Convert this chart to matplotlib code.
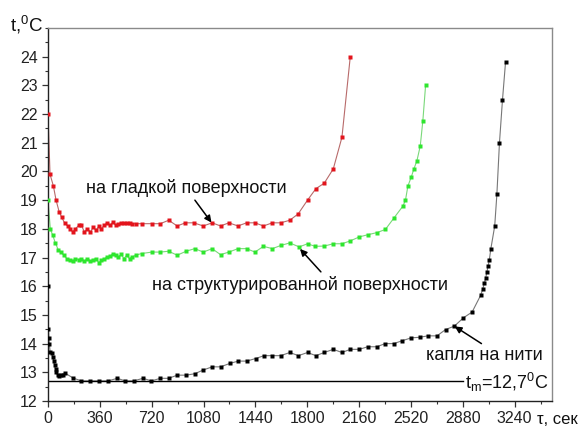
import matplotlib
matplotlib.use("Agg")
import matplotlib.pyplot as plt
from matplotlib.ticker import MultipleLocator

plt.rcParams['font.family'] = ['Liberation Sans', 'DejaVu Sans']
plt.rcParams['mathtext.fontset'] = 'custom'
plt.rcParams['mathtext.rm'] = 'Liberation Sans'
plt.rcParams['mathtext.it'] = 'Liberation Sans'

# Drop on a smooth surface
smooth_t = [0, 14, 37, 56, 77, 95, 116, 139, 156, 172, 190, 213, 232, 253, 272, 295,
            314, 334, 353, 371, 392, 411, 430, 451, 469, 488, 509, 527, 546, 566, 585,
            608, 653, 722, 780, 838, 897, 954, 1012, 1078, 1140, 1198, 1256, 1319, 1379,
            1437, 1496, 1558, 1616, 1679, 1737, 1802, 1860, 1918, 1981, 2041, 2099]
smooth_T = [22.0, 19.9, 19.5, 19.0, 18.6, 18.4, 18.2, 18.09, 18.0, 17.89, 18.0, 18.12,
            18.12, 17.89, 18.0, 17.89, 18.06, 17.95, 18.09, 18.0, 18.14, 18.2, 18.12,
            18.24, 18.12, 18.18, 18.2, 18.2, 18.2, 18.2, 18.18, 18.18, 18.18, 18.18,
            18.18, 18.3, 18.1, 18.21, 18.21, 18.1, 18.21, 18.1, 18.21, 18.1, 18.21,
            18.21, 18.1, 18.21, 18.21, 18.3, 18.52, 19.0, 19.4, 19.59, 20.09, 21.19, 24.0]

# Drop on a structured surface
struct_t = [0, 16, 33, 51, 70, 91, 109, 132, 151, 172, 190, 213, 232, 253, 272, 295,
            314, 334, 353, 371, 392, 411, 430, 451, 469, 488, 509, 527, 546, 566, 585,
            608, 650, 722, 780, 838, 897, 959, 1019, 1078, 1140, 1198, 1256, 1319, 1379,
            1437, 1496, 1558, 1616, 1679, 1744, 1802, 1855, 1918, 1981, 2041, 2099, 2162,
            2225, 2285, 2343, 2404, 2464, 2482, 2499, 2522, 2541, 2562, 2585, 2603, 2622]
struct_T = [19.0, 18.0, 17.77, 17.51, 17.28, 17.19, 17.08, 16.96, 16.9, 16.88, 16.96,
            16.93, 16.96, 16.88, 16.96, 16.88, 16.93, 16.96, 16.82, 16.9, 16.96, 17.02,
            17.04, 17.14, 17.08, 17.02, 17.11, 16.96, 17.08, 16.96, 17.02, 17.08, 17.14,
            17.19, 17.19, 17.22, 17.08, 17.22, 17.31, 17.19, 17.31, 17.1, 17.19, 17.31,
            17.31, 17.19, 17.39, 17.31, 17.42, 17.51, 17.37, 17.48, 17.39, 17.4, 17.48,
            17.48, 17.58, 17.72, 17.8, 17.87, 17.98, 18.39, 18.79, 18.99, 19.49, 19.8,
            20.09, 20.38, 20.89, 21.77, 23.0]

# Drop hanging on a thread
thread_t = [0, 3, 6, 9, 15, 25, 33, 40, 46, 52, 58, 66, 78, 90, 102, 116, 174, 232, 295,
            357, 418, 481, 536, 594, 660, 718, 780, 838, 897, 959, 1019, 1078, 1140, 1198,
            1263, 1321, 1379, 1442, 1500, 1558, 1616, 1679, 1739, 1802, 1860, 1918, 1981,
            2041, 2099, 2162, 2220, 2283, 2341, 2401, 2459, 2522, 2580, 2638, 2701, 2761,
            2822, 2885, 2945, 3005, 3020, 3030, 3040, 3048, 3056, 3064, 3075, 3102, 3117,
            3135, 3156, 3177]
thread_T = [16.0, 14.5, 14.2, 14.0, 13.7, 13.68, 13.55, 13.4, 13.25, 13.12, 13.0, 12.9,
            12.88, 12.9, 12.92, 12.98, 12.8, 12.7, 12.7, 12.7, 12.7, 12.79, 12.7, 12.7,
            12.79, 12.7, 12.79, 12.79, 12.9, 12.9, 12.95, 13.08, 13.19, 13.19, 13.31,
            13.39, 13.39, 13.48, 13.58, 13.58, 13.58, 13.69, 13.58, 13.69, 13.58, 13.69,
            13.8, 13.69, 13.8, 13.8, 13.89, 13.89, 14.0, 14.0, 14.1, 14.2, 14.22, 14.27,
            14.27, 14.49, 14.61, 14.9, 15.1, 15.69, 15.92, 16.1, 16.3, 16.5, 16.7, 16.9,
            17.3, 18.1, 19.2, 21.0, 22.5, 23.8]

t_melt = 12.7
melt_end = 2885

x_ticks = [0, 360, 720, 1080, 1440, 1800, 2160, 2520, 2880, 3240]

fig = plt.figure(figsize=(5.82, 4.29), dpi=100)
ax = fig.add_axes([0.0825, 0.0653, 0.866, 0.8694])

ms = 3.5
ax.plot(smooth_t, smooth_T, '-', color='#b86a6a', lw=0.8, zorder=2)
ax.plot(smooth_t, smooth_T, 's', color='#e3141c', ms=ms, mec='none', zorder=3)
ax.plot(struct_t, struct_T, '-', color='#7ad87a', lw=0.8, zorder=2)
ax.plot(struct_t, struct_T, 's', color='#2ee62e', ms=ms, mec='none', zorder=3)
ax.plot(thread_t, thread_T, '-', color='#777777', lw=0.8, zorder=2)
ax.plot(thread_t, thread_T, 's', color='#000000', ms=ms, mec='none', zorder=3)

ax.plot([0, melt_end], [t_melt, t_melt], '-', color='black', lw=1.0, zorder=2)

ax.set_xlim(0, 3500)
ax.set_ylim(12, 25)
ax.set_xticks(x_ticks)
ax.xaxis.set_minor_locator(MultipleLocator(180))
ax.yaxis.set_minor_locator(MultipleLocator(0.5))
ax.set_yticks(range(12, 25))

ax.tick_params(axis='both', which='major', direction='out', length=4.5, width=0.9,
               labelsize=11.5, pad=3, color='#333333', labelcolor='#222222')
ax.tick_params(axis='both', which='minor', direction='out', length=2.5, width=0.8,
               color='#333333')

for side in ['top', 'right']:
    ax.spines[side].set_color('#8a8a8a')
    ax.spines[side].set_linewidth(1.0)
for side in ['left', 'bottom']:
    ax.spines[side].set_color('#222222')
    ax.spines[side].set_linewidth(1.0)

fs = 13
ax.text(265, 19.44, 'на гладкой поверхности', fontsize=fs, ha='left', va='center',
        color='#111111')
ax.text(725, 16.03, 'на структурированной поверхности', fontsize=fs, ha='left',
        va='center', color='#111111')
ax.text(2627, 13.6, 'капля на нити', fontsize=fs, ha='left', va='center',
        color='#111111')
ax.text(2895, 12.66, r't$_\mathrm{m}$=12,7$^\mathrm{0}$C', fontsize=fs, ha='left',
        va='center', color='#111111')

arrow = dict(arrowstyle='-|>', color='black', lw=1.1, mutation_scale=10,
             shrinkA=0, shrinkB=0)
ax.annotate('', xy=(1135, 18.22), xytext=(1020, 19.0), arrowprops=arrow)
ax.annotate('', xy=(1750, 17.3), xytext=(1895, 16.5), arrowprops=arrow)
ax.annotate('', xy=(2824, 14.6), xytext=(3010, 14.0), arrowprops=arrow)

fig.text(10 / 582, 1 - 25 / 429, r't,$^\mathrm{0}$C', fontsize=13.5, ha='left',
         va='center', color='#111111')
fig.text(537 / 582, 1 - 419 / 429, 'τ, сек', fontsize=12, ha='left', va='center',
         color='#111111')

fig.savefig('out.png', dpi=100)
